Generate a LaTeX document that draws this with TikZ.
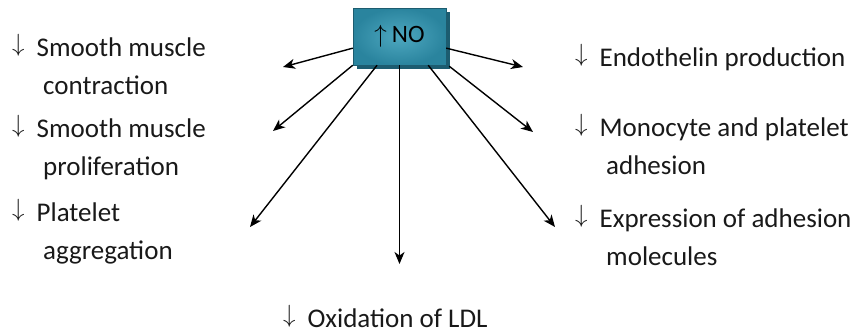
\documentclass[tikz,border=0pt]{standalone}
\usepackage{fontspec}
\setmainfont{Carlito}
\usetikzlibrary{arrows.meta,shadows}
\definecolor{boxin}{RGB}{78,168,192}
\definecolor{boxout}{RGB}{42,132,158}
\definecolor{boxshade}{RGB}{28,92,112}
\newcommand{\dn}{\raisebox{5pt}{$\downarrow$}\hspace{12pt}}
\begin{document}
\begin{tikzpicture}[x=1pt,y=1pt,
    eff/.style={anchor=north west, inner sep=0pt, align=left, text=black!90,
      font=\fontsize{27}{38}\selectfont},
    arr/.style={line width=1.4pt, -{Stealth[length=12pt,width=10pt,inset=3.5pt]}}]
      \useasboundingbox (0,0) rectangle (857,-333);
      \node[draw=boxout!70!black, line width=0.4pt, inner color=boxin, outer color=boxout,
        minimum width=93pt, minimum height=57pt, font=\fontsize{25}{30}\selectfont,
        drop shadow={shadow xshift=4pt, shadow yshift=-4pt, fill=boxshade, opacity=1}]
        (no) at (399.5,-36.5){$\uparrow$\hspace{5pt}NO};
      % left side
      \node[eff] (smc) at (12,-34){\dn Smooth muscle\\\hspace*{31pt}contraction};
      \node[eff] (smp) at (12,-115){\dn Smooth muscle\\\hspace*{31pt}proliferation};
      \node[eff] (pa) at (12,-199){\dn Platelet\\\hspace*{31pt}aggregation};
      % right side
      \node[eff] (ep) at (575,-44){\dn Endothelin production};
      \node[eff] (mpa) at (575,-114){\dn Monocyte and platelet\\\hspace*{31pt}adhesion};
      \node[eff] (eam) at (575,-205){\dn Expression of adhesion\\\hspace*{31pt}molecules};
      % bottom
      \node[eff] (ox) at (283,-305){\dn Oxidation of LDL};
      \coordinate (t1) at (283,-67);
      \coordinate (t2) at (273,-131);
      \coordinate (t3) at (250,-227);
      \coordinate (t4) at (399.5,-264);
      \coordinate (t5) at (555,-227);
      \coordinate (t6) at (533,-132);
      \coordinate (t7) at (523,-67);
      \draw[arr](no.194) -- (t1);
      \draw[arr](no.south west) -- (t2);
      \draw[arr](no.232) -- (t3);
      \draw[arr](no.south) -- (t4);
      \draw[arr](no.315) -- (t5);
      \draw[arr]([xshift=3pt,yshift=-1pt]no.south east) -- (t6);
      \draw[arr](no.346) -- (t7);

    \end{tikzpicture}
\end{document}
